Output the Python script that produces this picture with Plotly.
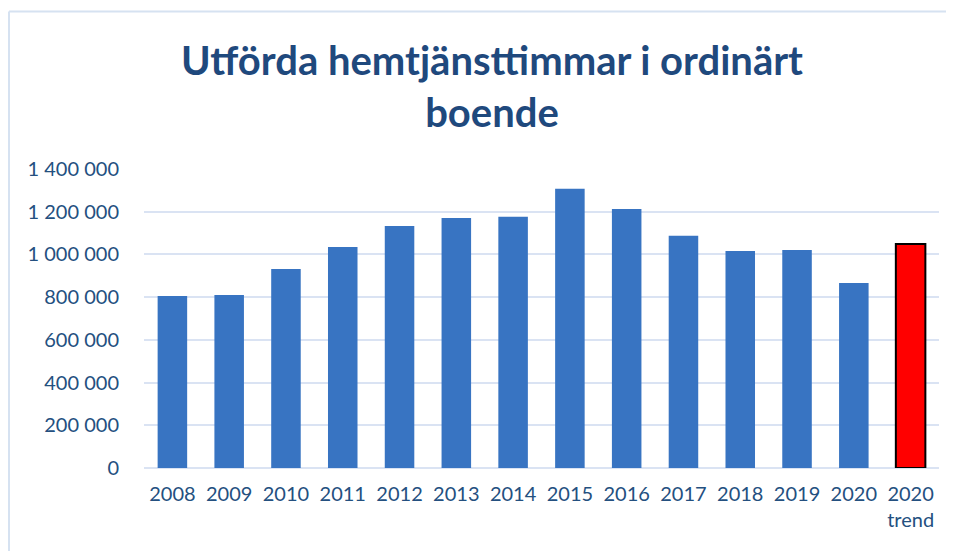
import plotly.graph_objects as go

categories = ["2008", "2009", "2010", "2011", "2012", "2013", "2014",
              "2015", "2016", "2017", "2018", "2019", "2020", "2020<br>trend"]
values = [805000, 810000, 932000, 1035000, 1133000, 1171000, 1176000,
          1307000, 1213000, 1087000, 1016000, 1021000, 866000, 1049000]
bar_colors = ["#3874c2"] * 13 + ["#ff0000"]
line_colors = ["rgba(0,0,0,0)"] * 13 + ["#000000"]
line_widths = [0] * 13 + [2]
y_ticks = [0, 200000, 400000, 600000, 800000, 1000000, 1200000, 1400000]

title_text = "Utförda hemtjänsttimmar i ordinärt<br>boende"

# page body has an 8px margin, so the figure is sized to fit the window
W, H = 946, 543
L, R, T, B = 136, 15, 161, 83

fig = go.Figure()
fig.add_trace(go.Bar(
    x=categories, y=values,
    marker=dict(color=bar_colors, line=dict(color=line_colors, width=line_widths)),
    width=0.52,
))

pw = W - L - R
ph = H - T - B

def px_x(x):
    return (x - L) / pw

def px_y(y):
    return (H - B - y) / ph

fig.update_layout(
    width=W, height=H,
    margin=dict(l=L, r=R, t=T, b=B, autoexpand=False),
    paper_bgcolor="white", plot_bgcolor="white",
    separators=", ",
    showlegend=False,
    font=dict(family="Lato", color="#24507f", size=20),
    title=dict(text=title_text, x=484 / W, xanchor="center", xref="container",
               y=1 - 67 / H, yanchor="middle",
               font=dict(family="Lato", size=40, color="#1f497d", weight="bold")),
    xaxis=dict(type="category", showgrid=False, showline=False, ticks="",
               tickfont=dict(size=20, color="#24507f"), ticklabelstandoff=12),
    yaxis=dict(range=[0, 1400000], tickvals=y_ticks, tickformat=",d",
               showgrid=True, gridcolor="#dae3f3", gridwidth=2,
               zeroline=True, zerolinecolor="#dae3f3", zerolinewidth=2,
               showline=False, ticks="", tickfont=dict(size=20, color="#24507f"),
               ticklabelstandoff=24),
    shapes=[
        dict(type="line", xref="paper", yref="paper",
             x0=px_x(1), x1=px_x(W + 5),
             y0=px_y(3.5), y1=px_y(3.5),
             line=dict(color="#d6e2f1", width=2)),
        dict(type="line", xref="paper", yref="paper",
             x0=px_x(1), x1=px_x(1),
             y0=px_y(3.5), y1=px_y(H + 5),
             line=dict(color="#d6e2f1", width=2)),
    ],
)

fig.write_html("out.html")
